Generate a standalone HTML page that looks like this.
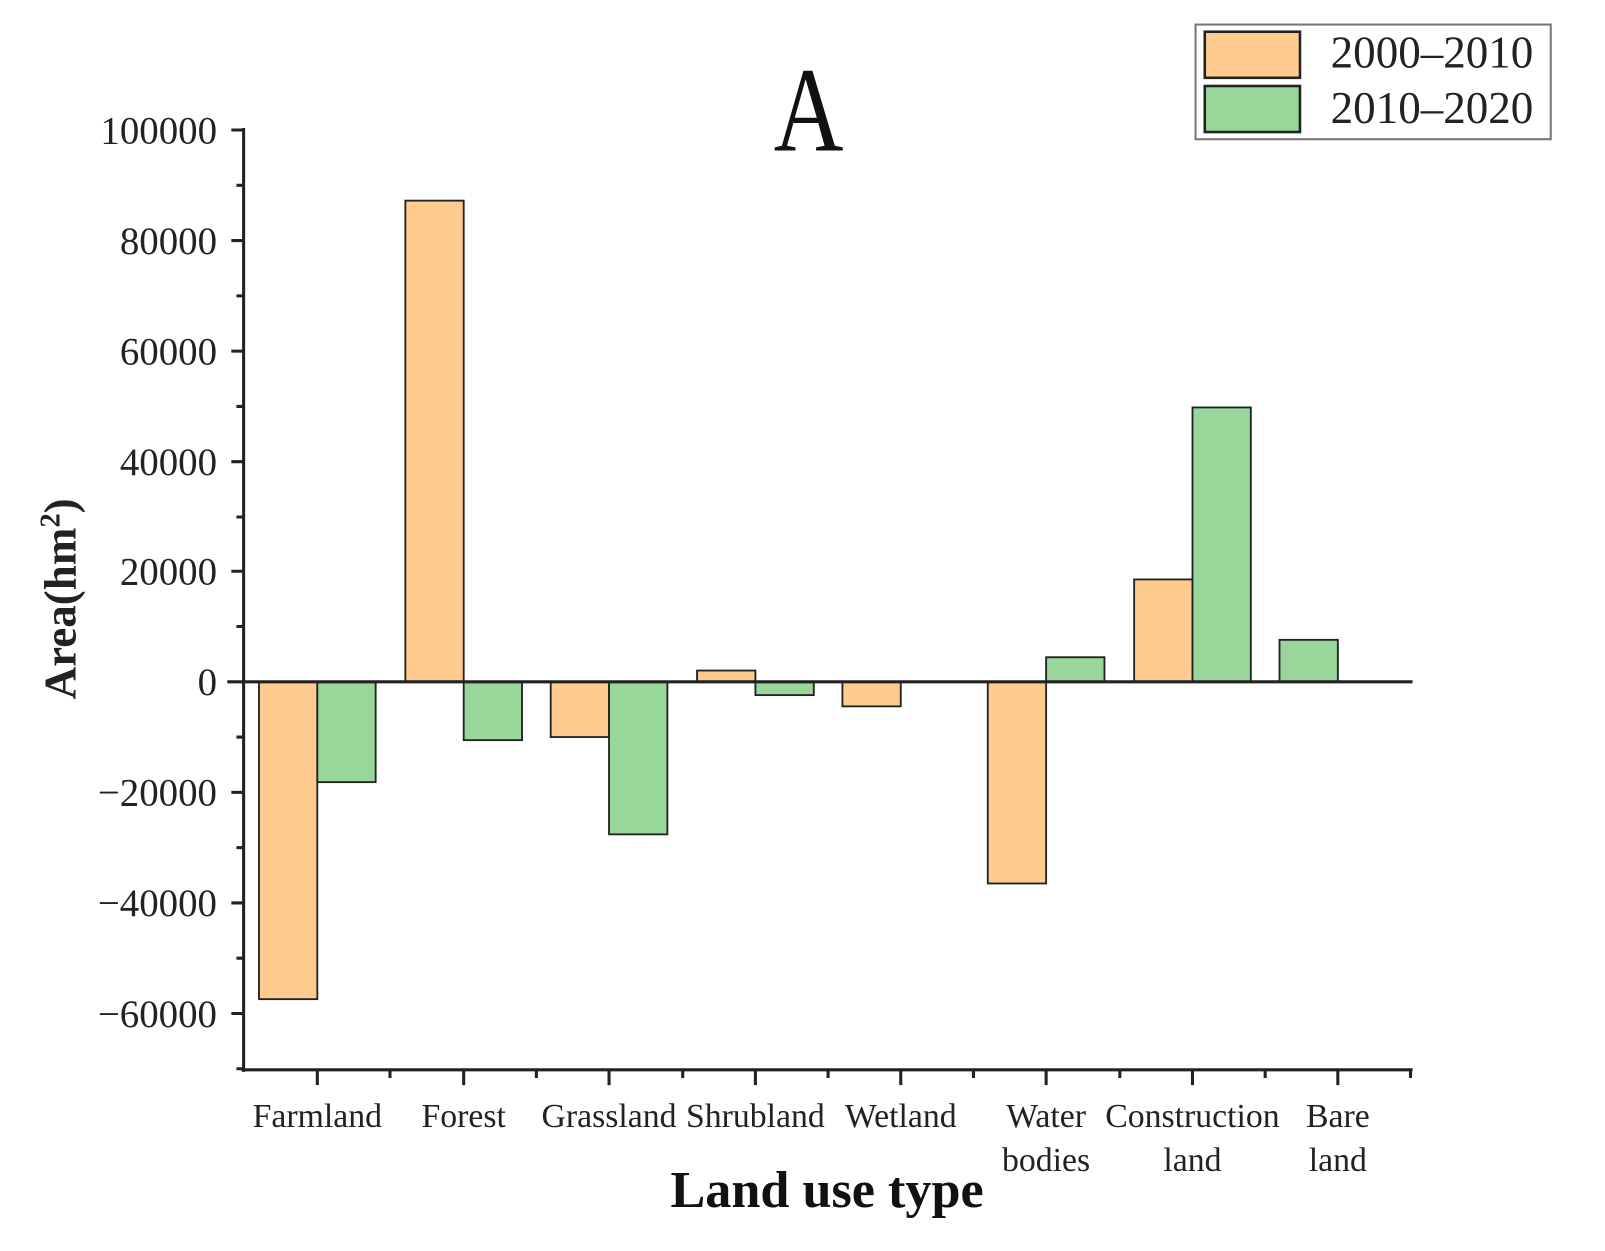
<!DOCTYPE html>
<html><head><meta charset="utf-8"><style>html,body{margin:0;padding:0;background:#fff}svg{display:block}</style></head>
<body>
<svg width="1605" height="1251" viewBox="0 0 1568 1222" preserveAspectRatio="none" xmlns="http://www.w3.org/2000/svg" font-family="Liberation Serif, serif">
<rect width="1568" height="1222" fill="#fff"/>
<g stroke="#222" stroke-width="1.8">
<rect x="253" y="666" width="57" height="310" fill="#FFCB8E"/>
<rect x="310" y="666" width="57" height="98" fill="#98D69A"/>
<rect x="396" y="196" width="57" height="470" fill="#FFCB8E"/>
<rect x="453" y="666" width="57" height="57" fill="#98D69A"/>
<rect x="538" y="666" width="57" height="54" fill="#FFCB8E"/>
<rect x="595" y="666" width="57" height="149" fill="#98D69A"/>
<rect x="681" y="655" width="57" height="11" fill="#FFCB8E"/>
<rect x="738" y="666" width="57" height="13" fill="#98D69A"/>
<rect x="823" y="666" width="57" height="24" fill="#FFCB8E"/>
<rect x="965" y="666" width="57" height="197" fill="#FFCB8E"/>
<rect x="1022" y="642" width="57" height="24" fill="#98D69A"/>
<rect x="1108" y="566" width="57" height="100" fill="#FFCB8E"/>
<rect x="1165" y="398" width="57" height="268" fill="#98D69A"/>
<rect x="1250" y="625" width="57" height="41" fill="#98D69A"/>
</g>
<g stroke="#222" stroke-width="3" fill="none">
<line x1="238" y1="125" x2="238" y2="1047"/>
<line x1="222" y1="666" x2="1380" y2="666"/>
<line x1="236" y1="1045" x2="1380" y2="1045"/>
<path d="M226 127H238M226 235H238M226 343H238M226 451H238M226 558H238M226 774H238M226 882H238M226 990H238"/>
<path d="M231 181H238M231 289H238M231 397H238M231 505H238M231 612H238M231 720H238M231 828H238M231 936H238M231 1044H238"/>
<path d="M310 1045V1060M453 1045V1060M595 1045V1060M738 1045V1060M880 1045V1060M1022 1045V1060M1165 1045V1060M1307 1045V1060"/>
<path d="M381 1045V1053M524 1045V1053M667 1045V1053M809 1045V1053M951 1045V1053M1094 1045V1053M1236 1045V1053M1378 1045V1053"/>
</g>
<g font-size="38" fill="#222" text-anchor="end">
<text x="212" y="140">100000</text>
<text x="212" y="248">80000</text>
<text x="212" y="356">60000</text>
<text x="212" y="464">40000</text>
<text x="212" y="571">20000</text>
<text x="212" y="679">0</text>
<text x="212" y="787">−20000</text>
<text x="212" y="895">−40000</text>
<text x="212" y="1003">−60000</text>
</g>
<text transform="translate(74,585) rotate(-90)" text-anchor="middle" font-size="44" font-weight="bold" fill="#222">Area(hm<tspan font-size="28" dy="-16">2</tspan><tspan dy="16">)</tspan></text>
<g font-size="33" fill="#222" text-anchor="middle">
<text x="310" y="1101">Farmland</text>
<text x="453" y="1101">Forest</text>
<text x="595" y="1101">Grassland</text>
<text x="738" y="1101">Shrubland</text>
<text x="880" y="1101">Wetland</text>
<text x="1022" y="1101">Water</text><text x="1022" y="1144">bodies</text>
<text x="1165" y="1101">Construction</text><text x="1165" y="1144">land</text>
<text x="1307" y="1101">Bare</text><text x="1307" y="1144">land</text>
</g>
<text x="808" y="1179" text-anchor="middle" font-size="51" font-weight="bold" fill="#111">Land use type</text>
<text x="790" y="147" text-anchor="middle" font-size="118" fill="#111" transform="translate(790,0) scale(0.8,1) translate(-790,0)">A</text>
<rect x="1168" y="24" width="347" height="112" fill="#fff" stroke="#777" stroke-width="2"/>
<rect x="1177" y="31" width="93" height="45" fill="#FFCB8E" stroke="#222" stroke-width="2.5"/>
<rect x="1177" y="84" width="93" height="45" fill="#98D69A" stroke="#222" stroke-width="2.5"/>
<text x="1300" y="66" font-size="44" fill="#222">2000–2010</text>
<text x="1300" y="120" font-size="44" fill="#222">2010–2020</text>
</svg>
</body></html>
